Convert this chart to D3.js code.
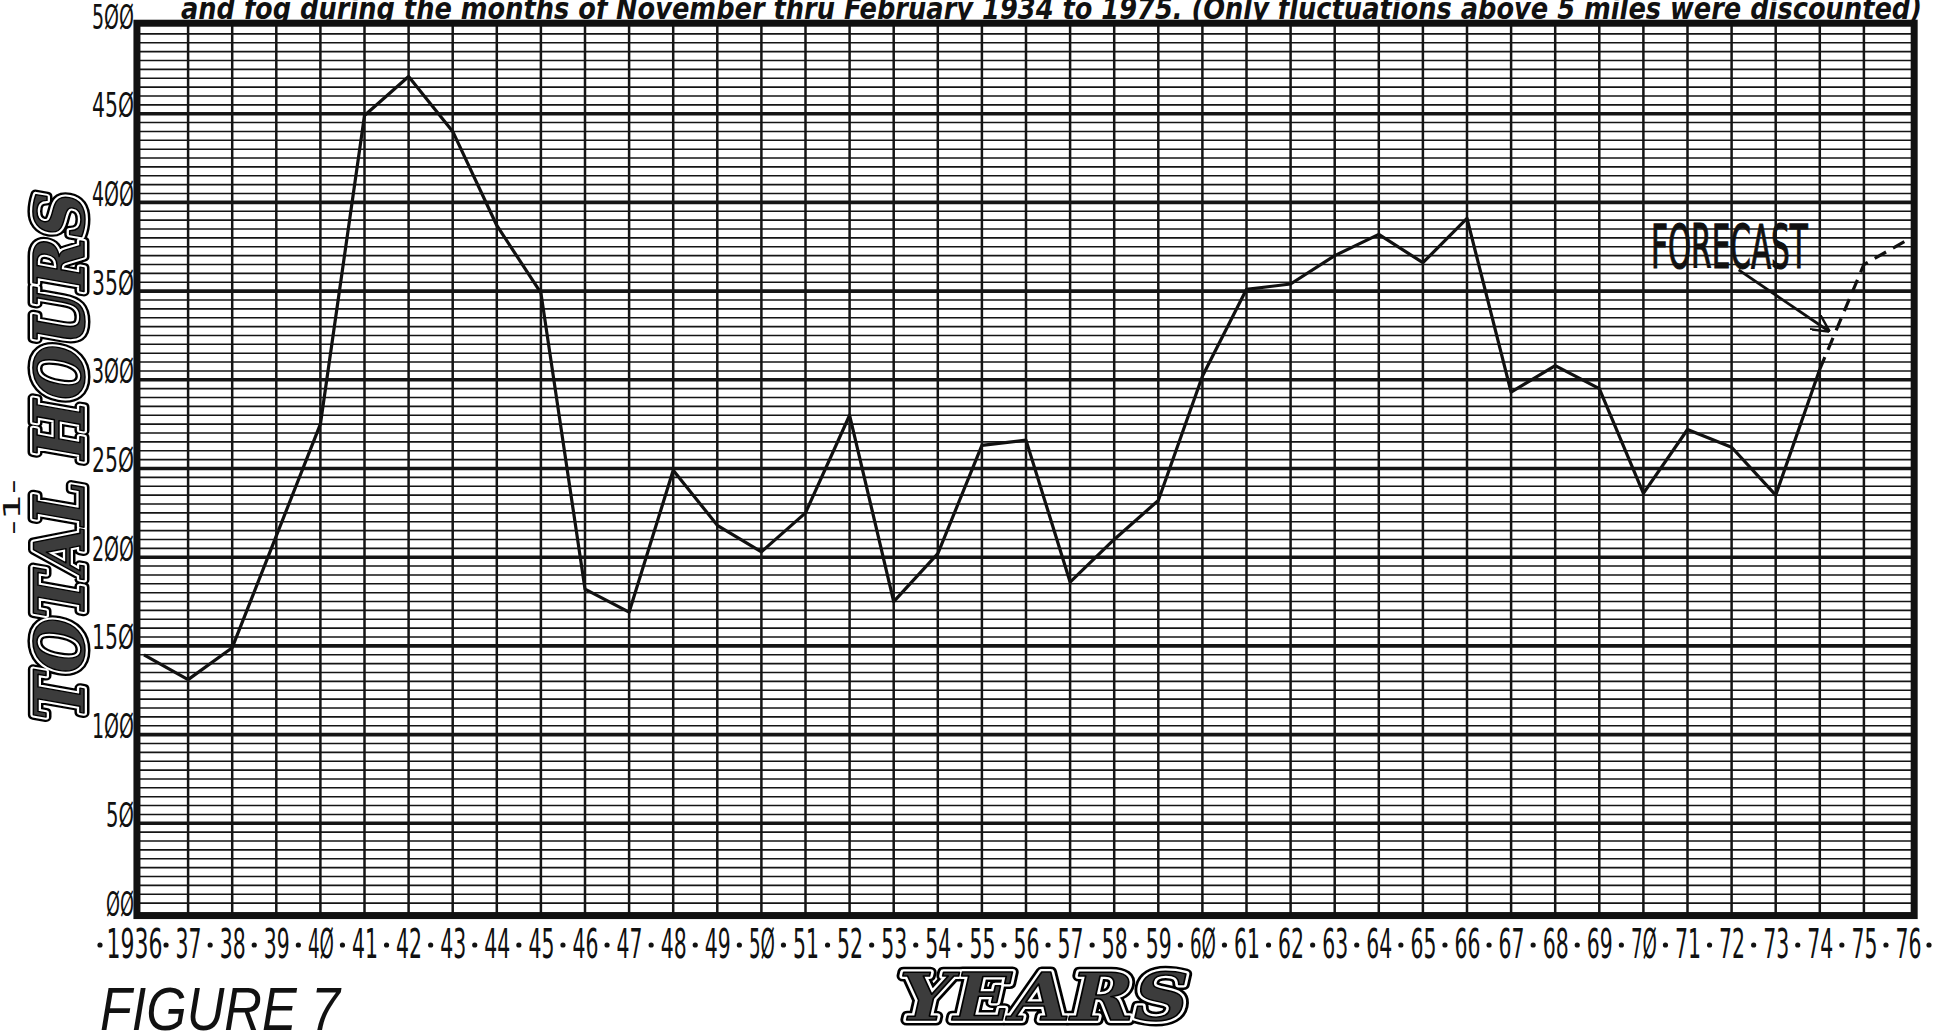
<!DOCTYPE html>
<html>

<head>

<meta charset="utf-8">
<style>

    body {
        margin: 0;
        background: #fff;
    }

    svg {
        display: block;
        background: #fff;
    }

    .grid line {
        stroke: #151515;
    }

    .grid .minor {
        stroke-width: 1.6;
    }

    .grid .major {
        stroke-width: 3.6;
    }

    .grid .vert {
        stroke-width: 2.5;
    }

    .hours-line {
        fill: none;
        stroke: #111;
        stroke-width: 3.2;
        stroke-linejoin: round;
    }

    .forecast-line {
        fill: none;
        stroke: #111;
        stroke-width: 3.2;
        stroke-dasharray: 13 8;
    }

    .fancy {
        font-family: "DejaVu Serif", serif;
        font-weight: bold;
        font-style: italic;
    }

</style>

</head>

<body>

<script src="https://d3js.org/d3.v7.min.js"></script>

<script>

    // total hours per season
    var years = [1936, 1937, 1938, 1939, 1940, 1941, 1942, 1943, 1944, 1945,
                 1946, 1947, 1948, 1949, 1950, 1951, 1952, 1953, 1954, 1955,
                 1956, 1957, 1958, 1959, 1960, 1961, 1962, 1963, 1964, 1965,
                 1966, 1967, 1968, 1969, 1970, 1971, 1972, 1973, 1974];
    var hours = [145, 131, 149, 212, 275, 449, 471, 440, 387, 349,
                 182, 169, 249, 218, 203, 225, 280, 175, 202, 263,
                 266, 186, 210, 232, 302, 351, 354, 370, 382, 366,
                 391, 293, 308, 295, 236, 272, 262, 235, 306];

    var forecastYears = [1974, 1975, 1976];
    var forecastHours = [306, 365, 379];

    var labelYears = [1936, 1937, 1938, 1939, 1940, 1941, 1942, 1943, 1944, 1945,
                      1946, 1947, 1948, 1949, 1950, 1951, 1952, 1953, 1954, 1955,
                      1956, 1957, 1958, 1959, 1960, 1961, 1962, 1963, 1964, 1965,
                      1966, 1967, 1968, 1969, 1970, 1971, 1972, 1973, 1974, 1975, 1976];
    var yearLabels = ["1936", "37", "38", "39", "4Ø", "41", "42", "43", "44", "45",
                      "46", "47", "48", "49", "5Ø", "51", "52", "53", "54", "55",
                      "56", "57", "58", "59", "6Ø", "61", "62", "63", "64", "65",
                      "66", "67", "68", "69", "7Ø", "71", "72", "73", "74", "75", "76"];

    var hourTicks = [0, 50, 100, 150, 200, 250, 300, 350, 400, 450, 500];
    var hourLabels = ["ØØ", "5Ø", "1ØØ", "15Ø", "2ØØ", "25Ø", "3ØØ", "35Ø", "4ØØ", "45Ø", "5ØØ"];

    var title = "and fog during the months of November thru February 1934 to 1975. (Only fluctuations above 5 miles were discounted)";

    var width = 1947,
        height = 1036;

    var svg = d3.select("body").append("svg")
        .attr("width", width)
        .attr("height", height);

    var x = d3.scaleLinear().domain([1936, 1976]).range([144, 1908]);
    var y = d3.scaleLinear().domain([0, 500]).range([912, 25]);

    var plotLeft = x(1935.84),
        plotRight = x(1976.14),
        plotTop = y(501),
        plotBottom = y(-2);

    svg.append("defs").append("marker")
        .attr("id", "arrowhead")
        .attr("viewBox", "0 -6 12 12")
        .attr("refX", 11)
        .attr("refY", 0)
        .attr("markerWidth", 18)
        .attr("markerHeight", 18)
        .attr("markerUnits", "userSpaceOnUse")
        .attr("orient", "auto")
        .append("path")
        .attr("d", "M0,-6L12,0L0,6")
        .attr("fill", "none")
        .attr("stroke", "#111")
        .attr("stroke-width", 1.6);

    // graph paper
    var grid = svg.append("g").attr("class", "grid");

    grid.selectAll(".minor")
        .data(d3.range(5, 500, 5).filter(function(v) { return v % 50 != 0; }))
        .enter().append("line")
        .attr("class", "minor")
        .attr("x1", plotLeft).attr("x2", plotRight)
        .attr("y1", function(d) { return y(d); })
        .attr("y2", function(d) { return y(d); });

    grid.selectAll(".major")
        .data(hourTicks.slice(1, -1))
        .enter().append("line")
        .attr("class", "major")
        .attr("x1", plotLeft).attr("x2", plotRight)
        .attr("y1", function(d) { return y(d); })
        .attr("y2", function(d) { return y(d); });

    grid.selectAll(".vert")
        .data(labelYears.slice(1, -1))
        .enter().append("line")
        .attr("class", "vert")
        .attr("y1", plotTop).attr("y2", plotBottom)
        .attr("x1", function(d) { return x(d); })
        .attr("x2", function(d) { return x(d); });

    svg.append("rect")
        .attr("x", plotLeft)
        .attr("y", plotTop)
        .attr("width", plotRight - plotLeft)
        .attr("height", plotBottom - plotTop)
        .attr("fill", "none")
        .attr("stroke", "#111")
        .attr("stroke-width", 7);

    // data
    var line = d3.line()
        .x(function(d) { return x(d[0]); })
        .y(function(d) { return y(d[1]); });

    svg.append("path")
        .attr("class", "hours-line")
        .attr("d", line(d3.zip(years, hours)));

    svg.append("path")
        .attr("class", "forecast-line")
        .attr("d", line(d3.zip(forecastYears, forecastHours)));

    // forecast note
    svg.append("text")
        .attr("x", x(1970.17))
        .attr("y", y(363))
        .attr("font-family", "DejaVu Sans Condensed, DejaVu Sans, sans-serif")
        .attr("font-size", 60)
        .attr("textLength", 157)
        .attr("lengthAdjust", "spacingAndGlyphs")
        .attr("fill", "#111")
        .attr("stroke", "#111")
        .attr("stroke-width", 1.2)
        .text("FORECAST");

    svg.append("line")
        .attr("x1", x(1972.16)).attr("y1", y(362))
        .attr("x2", x(1974.2)).attr("y2", y(327.5))
        .attr("stroke", "#111")
        .attr("stroke-width", 2.8)
        .attr("marker-end", "url(#arrowhead)");

    // axes
    var yAxis = d3.axisLeft(y)
        .tickValues(hourTicks)
        .tickSize(0)
        .tickPadding(0)
        .tickFormat(function(d, i) { return hourLabels[i]; });

    var yg = svg.append("g")
        .attr("transform", "translate(134,0)")
        .call(yAxis);
    yg.select(".domain").remove();
    yg.attr("font-family", "DejaVu Sans Condensed, DejaVu Sans, sans-serif")
        .attr("font-size", 34);
    yg.selectAll("text")
        .attr("dy", 0)
        .attr("y", 3)
        .attr("fill", "#111")
        .attr("textLength", function(d, i) { return hourLabels[i].length * 14; })
        .attr("lengthAdjust", "spacingAndGlyphs");

    var xAxis = d3.axisBottom(x)
        .tickValues(labelYears)
        .tickSize(0)
        .tickPadding(0)
        .tickFormat(function(d, i) { return yearLabels[i]; });

    var xg = svg.append("g")
        .attr("transform", "translate(0,958)")
        .call(xAxis);
    xg.select(".domain").remove();
    xg.attr("font-family", "DejaVu Sans Condensed, DejaVu Sans, sans-serif")
        .attr("font-size", 41);
    xg.selectAll("text")
        .attr("dy", 0)
        .attr("y", 0)
        .attr("x", function(d, i) { return i == 0 ? -10 : 0; })
        .attr("fill", "#111")
        .attr("textLength", function(d, i) { return yearLabels[i].length == 4 ? 56 : 26; })
        .attr("lengthAdjust", "spacingAndGlyphs");

    // separating dots between the year labels
    var dotX = labelYears.map(function(d, i) { return i == 0 ? x(d) - 44 : x(d - 0.5); });
    dotX.push(x(1976) + 21);
    xg.selectAll(".sep")
        .data(dotX)
        .enter().append("circle")
        .attr("class", "sep")
        .attr("cx", function(d) { return d; })
        .attr("cy", -13)
        .attr("r", 2.6)
        .attr("fill", "#111");

    // title line, clipped at the top of the page
    svg.append("text")
        .attr("x", 181)
        .attr("y", 19)
        .attr("font-family", "DejaVu Sans, sans-serif")
        .attr("font-style", "italic")
        .attr("font-weight", "bold")
        .attr("font-size", 31)
        .attr("textLength", 1741)
        .attr("lengthAdjust", "spacingAndGlyphs")
        .attr("fill", "#111")
        .text(title);

    // outlined display lettering
    function fancyText(parent, txt, len, size) {
        var layers = [
            { fill: "#000", stroke: "#000", sw: 11 },
            { fill: "#fff", stroke: "#fff", sw: 6 },
            { fill: "#3c3c3c", stroke: "#000", sw: 1.5 }
        ];
        layers.forEach(function(l) {
            parent.append("text")
                .attr("class", "fancy")
                .attr("text-anchor", "middle")
                .attr("font-size", size)
                .attr("textLength", len)
                .attr("lengthAdjust", "spacingAndGlyphs")
                .attr("fill", l.fill)
                .attr("stroke", l.stroke)
                .attr("stroke-width", l.sw)
                .attr("stroke-linejoin", "round")
                .text(txt);
        });
    }

    fancyText(svg.append("g").attr("transform", "translate(84,456) rotate(-90)"), "TOTAL HOURS", 528, 70);
    fancyText(svg.append("g").attr("transform", "translate(1044,1020)"), "YEARS", 290, 66);

    svg.append("text")
        .attr("transform", "translate(20,507) rotate(-90)")
        .attr("text-anchor", "middle")
        .attr("font-family", "DejaVu Sans, sans-serif")
        .attr("font-size", 23)
        .attr("textLength", 56)
        .attr("lengthAdjust", "spacingAndGlyphs")
        .attr("fill", "#111")
        .text("-1-");

    svg.append("text")
        .attr("x", 100)
        .attr("y", 1030)
        .attr("font-family", "Liberation Sans, sans-serif")
        .attr("font-style", "italic")
        .attr("font-size", 62)
        .attr("textLength", 240)
        .attr("lengthAdjust", "spacingAndGlyphs")
        .attr("fill", "#111")
        .text("FIGURE 7");

</script>
</body>
</html>
